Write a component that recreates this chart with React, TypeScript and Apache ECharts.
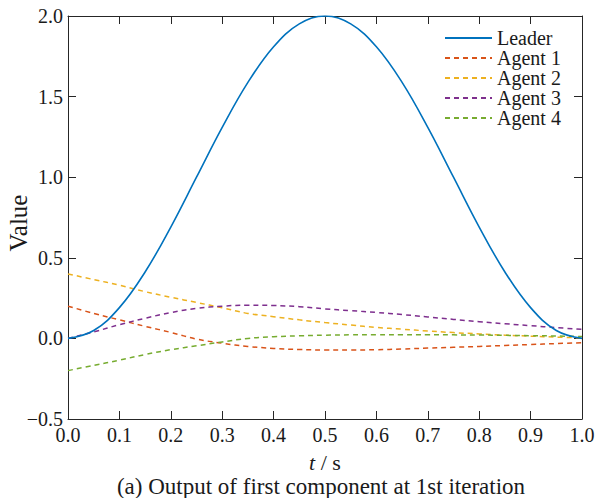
import React, { useEffect, useRef } from "react";
import * as echarts from "echarts";

const tValues = [0, 0.05, 0.1, 0.15, 0.2, 0.25, 0.3, 0.35, 0.4, 0.45, 0.5, 0.55, 0.6, 0.65, 0.7, 0.75, 0.8, 0.85, 0.9, 0.95, 1.0];
const leader = [0, 0.049, 0.191, 0.412, 0.691, 1.0, 1.309, 1.588, 1.809, 1.951, 2.0, 1.951, 1.809, 1.588, 1.309, 1.0, 0.691, 0.412, 0.191, 0.049, 0];
const agent1 = [0.2, 0.155, 0.115, 0.075, 0.037, -0.004, -0.03, -0.05, -0.062, -0.069, -0.072, -0.072, -0.07, -0.066, -0.06, -0.055, -0.05, -0.044, -0.038, -0.032, -0.027];
const agent2 = [0.4, 0.365, 0.33, 0.29, 0.255, 0.223, 0.19, 0.155, 0.135, 0.115, 0.098, 0.083, 0.068, 0.057, 0.046, 0.036, 0.028, 0.02, 0.014, 0.008, 0.003];
const agent3 = [0, 0.04, 0.085, 0.125, 0.16, 0.186, 0.2, 0.206, 0.204, 0.197, 0.183, 0.172, 0.161, 0.148, 0.133, 0.118, 0.104, 0.091, 0.079, 0.067, 0.056];
const agent4 = [-0.2, -0.167, -0.135, -0.1, -0.07, -0.046, -0.022, 0.0, 0.01, 0.016, 0.02, 0.022, 0.023, 0.023, 0.023, 0.022, 0.021, 0.019, 0.017, 0.015, 0.012];

const seriesNames = ["Leader", "Agent 1", "Agent 2", "Agent 3", "Agent 4"];
const seriesColors = ["#0072BD", "#D95319", "#EDB120", "#7E2F8E", "#77AC30"];
const seriesData = [leader, agent1, agent2, agent3, agent4];

const FONT = "'Liberation Serif', 'Times New Roman', serif";
const AXIS_COLOR = "#262626";
const TEXT_COLOR = "#1a1a1a";

const fmt = (v: number) => (v < 0 ? "\u2212" + (-v).toFixed(1) : v.toFixed(1));

export default function App() {
  const ref = useRef<HTMLDivElement>(null);
  useEffect(() => {
    if (!ref.current) return;
    const chart = echarts.init(ref.current, undefined, { renderer: "svg" });
    const tickStyle = { show: true, inside: true, length: 8, lineStyle: { color: AXIS_COLOR, width: 1 } };
    const axisLine = { show: true, onZero: false, lineStyle: { color: AXIS_COLOR, width: 1 } };
    chart.setOption({
      animation: false,
      backgroundColor: "#ffffff",
      textStyle: { fontFamily: FONT },
      grid: { left: 68, right: 14, top: 16, bottom: 79, containLabel: false, outerBoundsMode: "none" },
      legend: {
        orient: "vertical",
        left: 444,
        top: 28,
        padding: 0,
        itemWidth: 47,
        itemHeight: 14,
        itemGap: 0,
        itemStyle: { opacity: 0 },
        textStyle: { fontFamily: FONT, fontSize: 20, color: TEXT_COLOR, lineHeight: 20 },
        data: seriesNames,
      },
      xAxis: [
        {
          type: "value",
          min: 0,
          max: 1,
          interval: 0.1,
          position: "bottom",
          axisLine,
          axisTick: tickStyle,
          splitLine: { show: false },
          axisLabel: { color: TEXT_COLOR, fontFamily: FONT, fontSize: 20, margin: 6, formatter: fmt },
          name: "{i|t} / s",
          nameLocation: "middle",
          nameGap: 32,
          nameTextStyle: {
            color: TEXT_COLOR,
            fontFamily: FONT,
            fontSize: 22,
            rich: { i: { fontFamily: FONT, fontStyle: "italic", fontSize: 22, color: TEXT_COLOR } },
          },
        },
        {
          type: "value",
          min: 0,
          max: 1,
          interval: 0.1,
          position: "top",
          axisLine,
          axisTick: tickStyle,
          axisLabel: { show: false },
          splitLine: { show: false },
        },
      ],
      yAxis: [
        {
          type: "value",
          min: -0.5,
          max: 2.0,
          interval: 0.5,
          position: "left",
          axisLine,
          axisTick: tickStyle,
          splitLine: { show: false },
          axisLabel: { color: TEXT_COLOR, fontFamily: FONT, fontSize: 20, margin: 5, formatter: fmt },
        },
        {
          type: "value",
          min: -0.5,
          max: 2.0,
          interval: 0.5,
          position: "right",
          axisLine,
          axisTick: tickStyle,
          axisLabel: { show: false },
          splitLine: { show: false },
        },
      ],
      graphic: [
        {
          type: "text",
          x: 18,
          y: 223,
          rotation: Math.PI / 2,
          style: {
            text: "Value",
            fontFamily: FONT,
            fontSize: 25,
            fill: TEXT_COLOR,
            textAlign: "center",
            textVerticalAlign: "middle",
          },
        },
        {
          type: "text",
          x: 321,
          y: 486.5,
          style: {
            text: "(a) Output of first component at 1st iteration",
            fontFamily: FONT,
            fontSize: 23,
            fill: TEXT_COLOR,
            textAlign: "center",
            textVerticalAlign: "middle",
          },
        },
      ],
      series: seriesNames.map((name, i) => ({
        name,
        type: "line",
        xAxisIndex: 0,
        yAxisIndex: 0,
        data: tValues.map((t, k) => [t, seriesData[i][k]]),
        smooth: 0.4,
        showSymbol: false,
        symbol: "none",
        color: seriesColors[i],
        lineStyle: {
          color: seriesColors[i],
          width: i === 0 ? 1.6 : 1.5,
          type: i === 0 ? "solid" : [5, 4],
        },
        z: i === 0 ? 3 : 2,
      })),
    });
    return () => chart.dispose();
  }, []);
  return <div ref={ref} style={{ position: "fixed", left: 0, top: 0, width: 596, height: 498 }} />;
}
